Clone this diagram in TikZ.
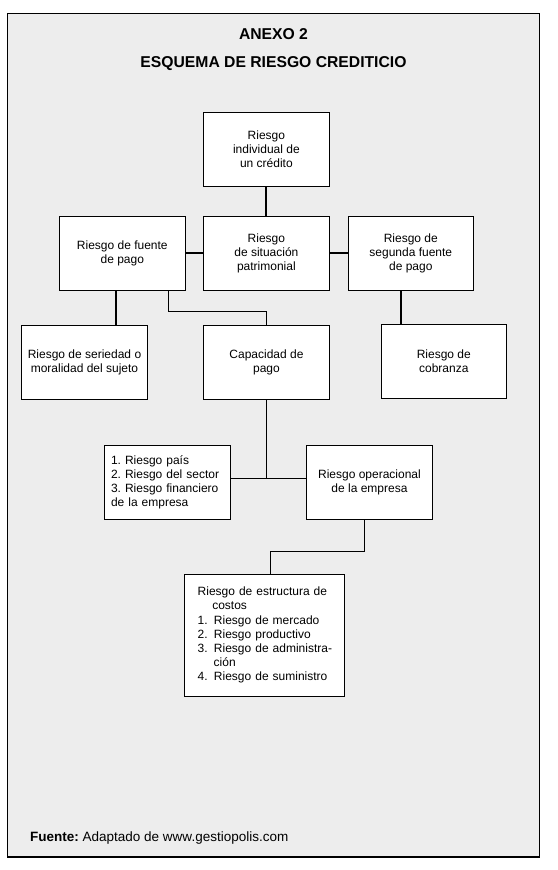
\documentclass[tikz,border=0pt]{standalone}
\usepackage{fontspec}
\setmainfont{Liberation Sans}
\usetikzlibrary{calc}
\definecolor{framebg}{RGB}{237,237,237}
\newcommand\boxfont{\fontsize{12}{14.2}\selectfont}
\newcommand\titlefont{\fontsize{15.7}{18}\selectfont\bfseries}
\newcommand\itemnum[1]{\makebox[16.3pt][l]{#1}}
\begin{document}
\frenchspacing
\begin{tikzpicture}[x=1pt,y=-1pt,
  box/.style={draw, line width=1pt, fill=white, minimum width=126pt, minimum height=74pt, inner sep=2pt, align=center, font=\boxfont},
  thickline/.style={line width=2pt},
  thinline/.style={line width=1pt},
  titletext/.style={anchor=base, font=\titlefont, inner sep=0pt}]
\useasboundingbox (0,0) rectangle (557,870);
\draw[fill=framebg, line width=1.3pt] (7.3,13.3) rectangle (539.3,857);

\node[titletext] (t1) at (273.5,39.5) {ANEXO 2};
\node[titletext] (t2) at (273.5,67) {ESQUEMA DE RIESGO CREDITICIO};

\node[box] (b1) at (266.4,149.2) {Riesgo\\individual de\\un crédito};
\node[box] (b2) at (122.3,253.3) {Riesgo de fuente\\de pago};
\node[box] (b3) at (266.4,253.3) {Riesgo\\de situación\\patrimonial};
\node[box, minimum width=125pt] (b4) at (410.8,253.3) {Riesgo de\\segunda fuente\\de pago};
\node[box] (b5) at (84.5,362.2) {Riesgo de seriedad o\\moralidad del sujeto};
\node[box] (b6) at (266.5,362.2) {Capacidad de\\pago};
\node[box, minimum width=125pt] (b7) at (443.8,361.2) {Riesgo de\\cobranza};
\node[box, text width=112pt, inner xsep=6.7pt, align=left] (b8) at (167,482.2) {1. Riesgo país\\2. Riesgo del sector\\3. Riesgo financiero\\de la empresa};
\node[box] (b9) at (369.5,482.2) {Riesgo operacional\\de la empresa};
\node[box, minimum width=160pt, minimum height=121.7pt, text width=133.2pt, inner xsep=13.4pt, align=left] (b10) at (264.3,635.2) {\mbox{Riesgo de estructura de}\\\hspace*{14.6pt}costos\\\mbox{\itemnum{1.}Riesgo de mercado}\\\mbox{\itemnum{2.}Riesgo productivo}\\\mbox{\itemnum{3.}Riesgo de administra-}\\\hspace*{16pt}ción\\\mbox{\itemnum{4.}Riesgo de suministro}};

\coordinate (c1) at (116,300);
\coordinate (c2) at (168.3,311.7);
\coordinate (c3) at (401,300);
\coordinate (c4) at (266.3,478.3);
\coordinate (c5) at (364.3,551.3);
\coordinate (c6) at (270,551.3);

\draw[thickline] (b1.south) -- (b3.north);
\draw[thickline] (b2.east) -- (b3.west);
\draw[thickline] (b3.east) -- (b4.west);
\draw[thickline] (b2.south -| c1) -- (b5.north -| c1);
\draw[thickline] (b4.south -| c3) -- (b7.north -| c3);
\draw[thinline] (b2.south -| c2) -- (c2) -| (b6.north);
\draw[thinline] (b6.south) -- (b6.south |- c4);
\draw[thinline] (b8.east |- c4) -- (b9.west |- c4);
\draw[thinline] (b9.south -| c5) -- (c5) -- (c6) -- (c6 |- b10.north);

\node[anchor=base west, font=\fontsize{13.5}{16}\selectfont, inner sep=0pt] (src) at (30,841) {\textbf{Fuente:} Adaptado de www.gestiopolis.com};
\end{tikzpicture}
\end{document}
